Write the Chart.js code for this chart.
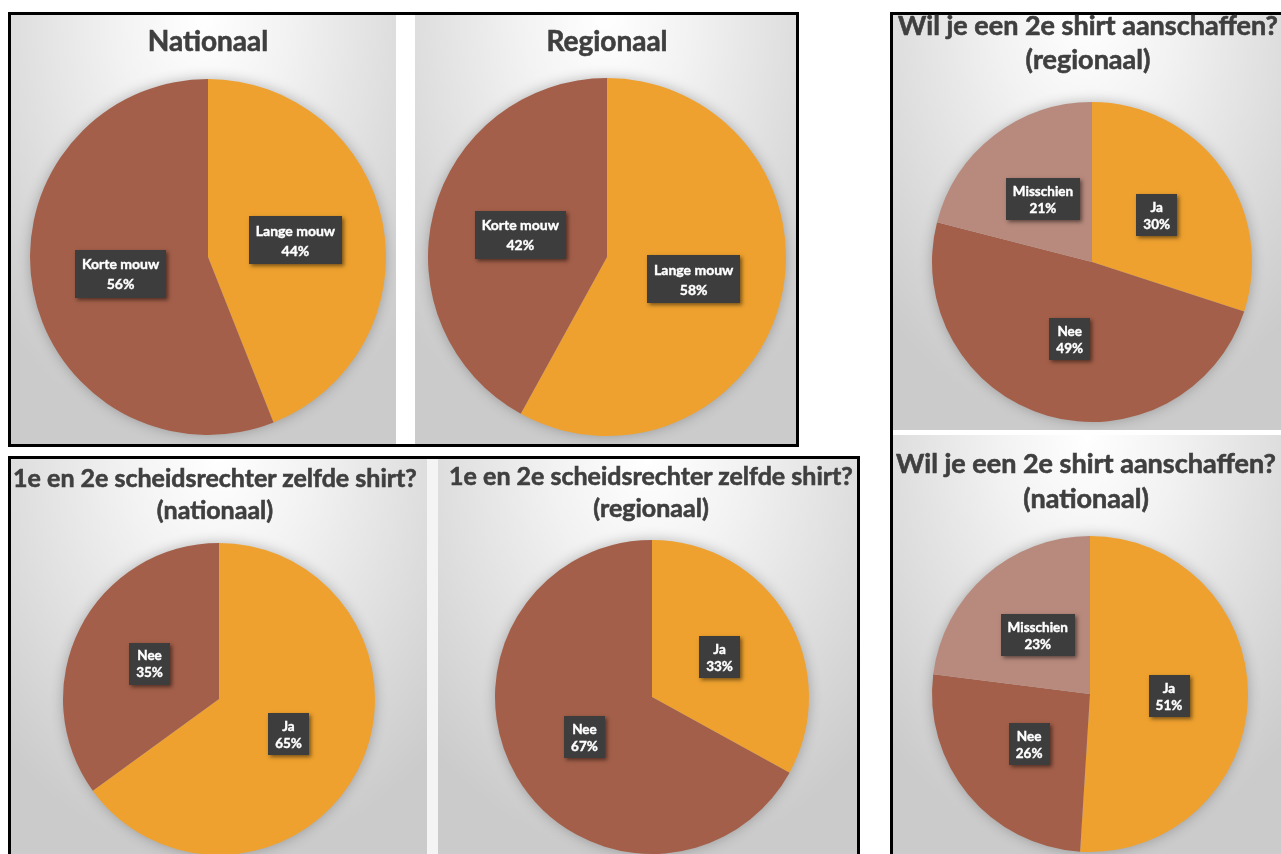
<!DOCTYPE html>
<html>
<head>
<meta charset="utf-8">
<script src="https://cdn.jsdelivr.net/npm/chart.js@4.4.1/dist/chart.umd.min.js"></script>
<style>
  body{margin:0;width:1281px;height:854px;overflow:hidden;background:#fff;font-family:Lato,"Noto Sans",sans-serif}
  .box{position:absolute;border:3px solid #000;box-sizing:border-box;background:#fff}
  .panel{position:absolute;overflow:hidden;
    background:radial-gradient(ellipse 75% 100% at 50% 0%, #ffffff 0%, #f2f2f2 30%, #cbcbcb 100%)}
  .panel canvas{position:absolute}
  .title{position:absolute;text-align:center;color:#3f3f3f;font-weight:bold;white-space:nowrap;
    -webkit-text-stroke:0.6px #3f3f3f}
</style>
</head>
<body>
<div class="box" style="left:8px;top:12px;width:791px;height:435px"></div>
<div class="box" style="left:8px;top:456px;width:852px;height:420px"></div>
<div class="box" style="left:890px;top:12px;width:420px;height:870px"></div>
<div style="position:absolute;left:427px;top:459px;width:11px;height:400px;background:#f4f4f4"></div>

<script>
// --- data ---
const sleeveLabels = ['Lange mouw', 'Korte mouw'];
const sleeveNational = [44, 56];
const sleeveRegional = [58, 42];

const sameShirtLabels = ['Ja', 'Nee'];
const sameShirtNational = [65, 35];
const sameShirtRegional = [33, 67];

const secondShirtLabels = ['Ja', 'Nee', 'Misschien'];
const secondShirtRegional = [30, 49, 21];
const secondShirtNational = [51, 26, 23];

const ORANGE = '#EEA12E', BROWN = '#A35F49', ROSE = '#B88A7D';

// panel + pie layout (page pixels); tb = baseline of first title line
const charts = [
  {title:['Nationaal'], labels:sleeveLabels, values:sleeveNational, colors:[ORANGE, BROWN],
   panel:[11,15,385,429], cx:208, cy:257, r:178, tx:208, tb:51, ts:28, tl:34, lsize:14, lh:20, pad:4},
  {title:['Regionaal'], labels:sleeveLabels, values:sleeveRegional, colors:[ORANGE, BROWN],
   panel:[415,15,381,429], cx:607, cy:257, r:179, tx:607, tb:51, ts:28, tl:34, lsize:14, lh:20, pad:4},
  {title:['1e en 2e scheidsrechter zelfde shirt?', '(nationaal)'], labels:sameShirtLabels, values:sameShirtNational, colors:[ORANGE, BROWN],
   panel:[11,459,416,400], cx:219, cy:699, r:156, tx:215, tb:487, ts:25, tl:32, lsize:13.5, lh:17, pad:4},
  {title:['1e en 2e scheidsrechter zelfde shirt?', '(regionaal)'], labels:sameShirtLabels, values:sameShirtRegional, colors:[ORANGE, BROWN],
   panel:[438,459,419,400], cx:652, cy:697, r:157, tx:651, tb:485, ts:25, tl:32, lsize:13.5, lh:17, pad:4},
  {title:['Wil je een 2e shirt aanschaffen?', '(regionaal)'], labels:secondShirtLabels, values:secondShirtRegional, colors:[ORANGE, BROWN, ROSE],
   panel:[893,15,388,415], cx:1092, cy:262, r:160, tx:1088, tb:35, ts:27, tl:34, lsize:13.5, lh:17, pad:4},
  {title:['Wil je een 2e shirt aanschaffen?', '(nationaal)'], labels:secondShirtLabels, values:secondShirtNational, colors:[ORANGE, BROWN, ROSE],
   panel:[893,435,388,419], cx:1090, cy:694, r:158, tx:1086, tb:473, ts:27, tl:35, lsize:13.5, lh:17, pad:4}
];

// soft glow behind the pie, taken from the arc geometry
const pieShadow = {
  id: 'pieShadow',
  beforeDatasetsDraw(chart) {
    const arc = chart.getDatasetMeta(0).data[0];
    if (!arc) return;
    const ctx = chart.ctx;
    ctx.save();
    ctx.shadowColor = 'rgba(0,0,0,0.30)';
    ctx.shadowBlur = 14;
    ctx.fillStyle = '#bbb';
    ctx.beginPath();
    ctx.arc(arc.x, arc.y, arc.outerRadius - 1, 0, Math.PI * 2);
    ctx.fill();
    ctx.restore();
  }
};

// dark Excel-style label boxes: category + percent
const boxLabels = {
  id: 'boxLabels',
  afterDatasetsDraw(chart, args, opts) {
    const ctx = chart.ctx;
    const ds = chart.data.datasets[0];
    const total = ds.data.reduce((a, b) => a + b, 0);
    chart.getDatasetMeta(0).data.forEach((arc, i) => {
      const p = arc.tooltipPosition();
      const lines = [chart.data.labels[i], Math.round(ds.data[i] / total * 100) + '%'];
      ctx.save();
      ctx.font = 'bold ' + opts.size + 'px Lato';
      const w = Math.max(...lines.map(t => ctx.measureText(t).width)) + 14;
      const h = opts.lineH * lines.length + opts.pad * 2;
      ctx.shadowColor = 'rgba(0,0,0,0.5)';
      ctx.shadowBlur = 4; ctx.shadowOffsetX = 2; ctx.shadowOffsetY = 2;
      ctx.fillStyle = '#3d3d3d';
      ctx.fillRect(Math.round(p.x - w / 2), Math.round(p.y - h / 2), Math.round(w), h);
      ctx.shadowColor = 'transparent';
      ctx.fillStyle = '#ffffff';
      ctx.strokeStyle = '#ffffff';
      ctx.lineWidth = 0.4;
      ctx.textAlign = 'center';
      ctx.textBaseline = 'middle';
      lines.forEach((t, k) => {
        const y = p.y - h / 2 + opts.pad + opts.lineH * (k + 0.5) + 1;
        ctx.fillText(t, p.x, y);
        ctx.strokeText(t, p.x, y);
      });
      ctx.restore();
    });
  }
};

const M = 24;
charts.forEach(c => {
  const [px, py, pw, ph] = c.panel;
  const panel = document.createElement('div');
  panel.className = 'panel';
  panel.style.cssText = `left:${px}px;top:${py}px;width:${pw}px;height:${ph}px`;
  const canvas = document.createElement('canvas');
  const size = 2 * (c.r + M);
  canvas.width = size; canvas.height = size;
  canvas.style.cssText = `left:${c.cx - c.r - M - px}px;top:${c.cy - c.r - M - py}px;width:${size}px;height:${size}px`;
  panel.appendChild(canvas);
  document.body.appendChild(panel);

  // title: Lato ascent 0.987em, content 1.2em
  const t = document.createElement('div');
  t.className = 'title';
  const top = c.tb - ((c.tl - 1.2 * c.ts) / 2 + 0.987 * c.ts);
  t.style.cssText = `left:${c.tx - 300}px;width:600px;top:${top}px;font-size:${c.ts}px;line-height:${c.tl}px`;
  t.innerHTML = c.title.join('<br>');
  document.body.appendChild(t);

  new Chart(canvas, {
    type: 'pie',
    data: {
      labels: c.labels,
      datasets: [{ data: c.values, backgroundColor: c.colors, borderWidth: 0 }]
    },
    options: {
      responsive: false,
      animation: false,
      radius: c.r,
      layout: { padding: M },
      plugins: {
        legend: { display: false },
        tooltip: { enabled: false },
        boxLabels: { size: c.lsize, lineH: c.lh, pad: c.pad }
      }
    },
    plugins: [pieShadow, boxLabels]
  });
});
</script>
</body>
</html>
